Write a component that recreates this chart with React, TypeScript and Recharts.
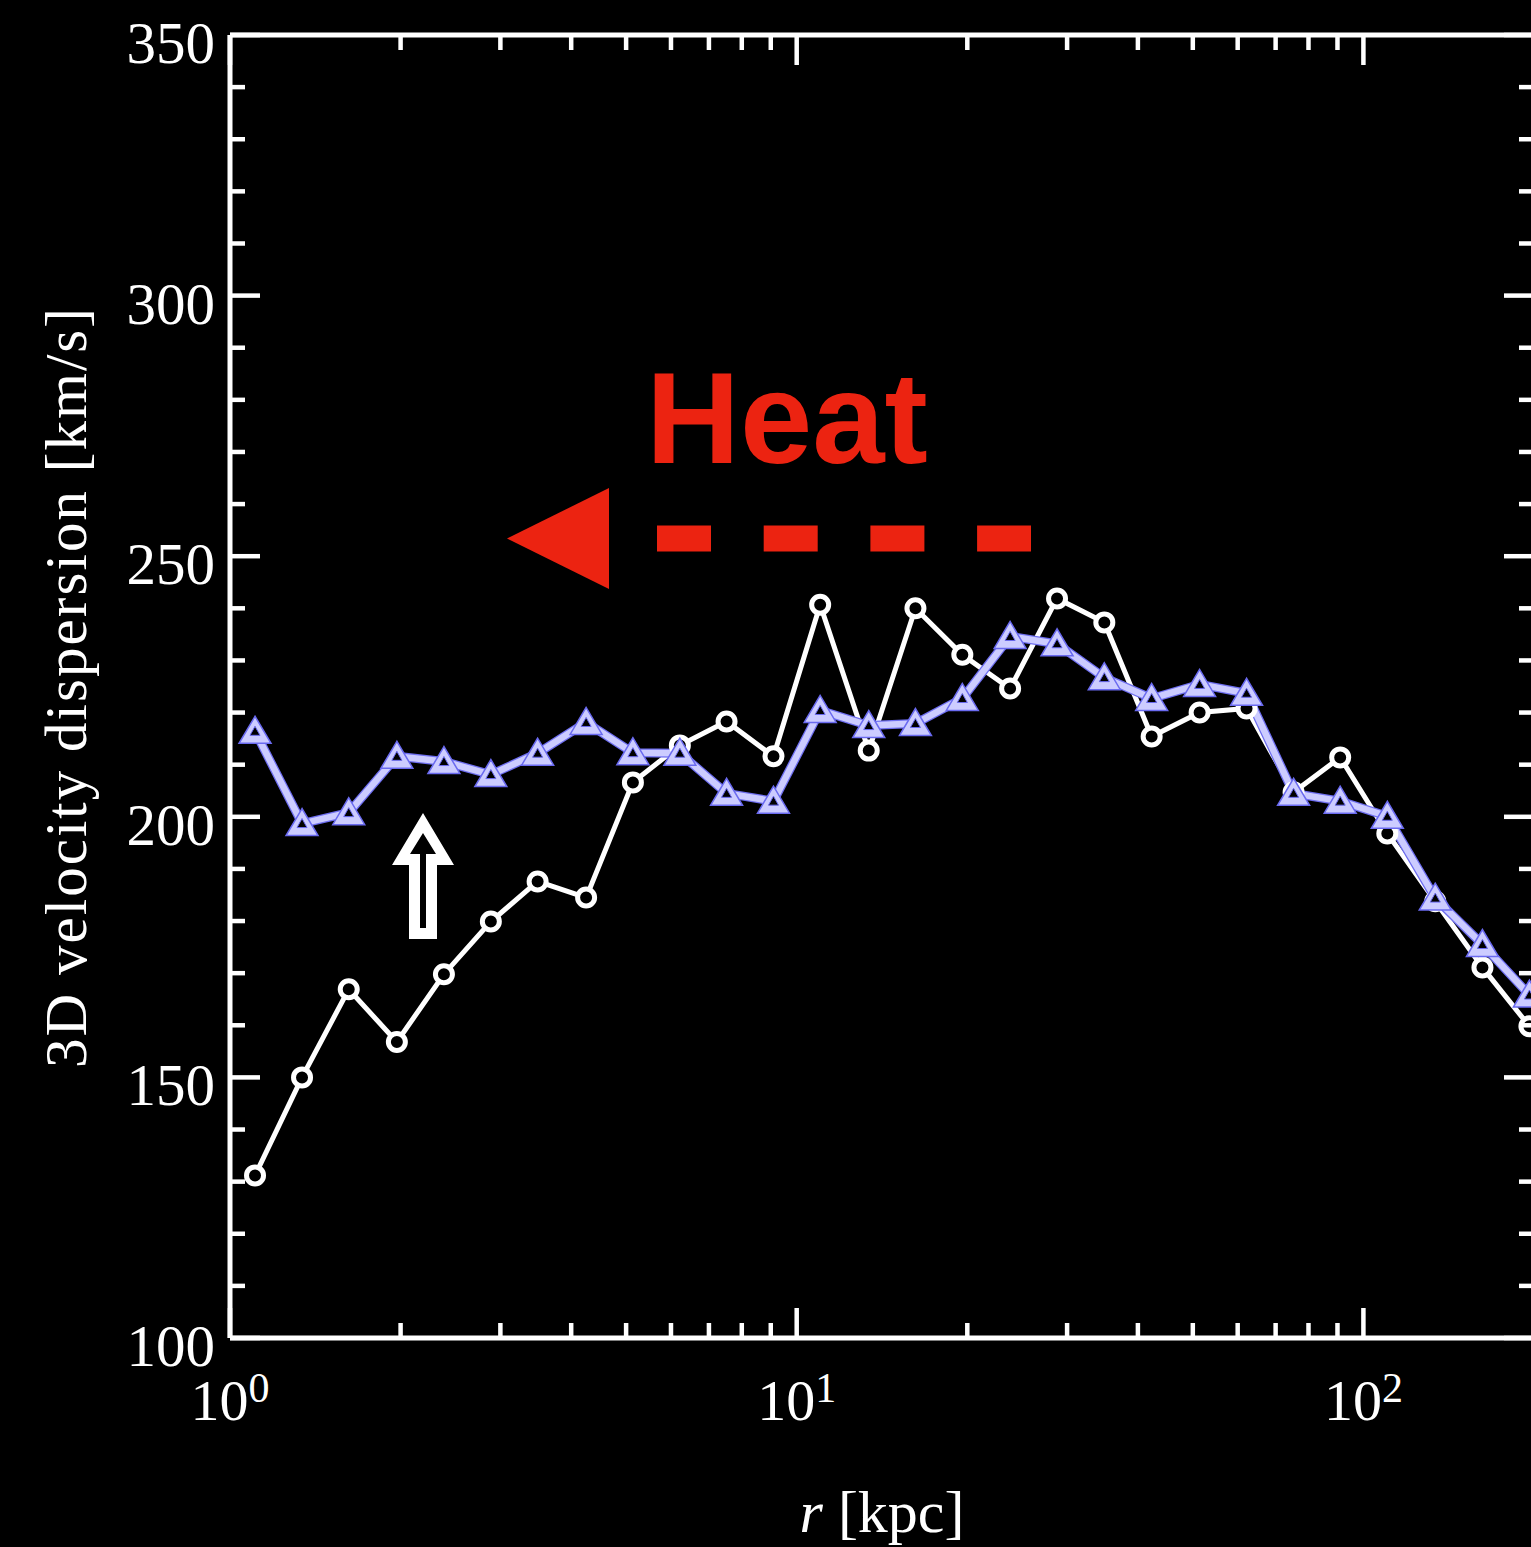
import { LineChart, Line, XAxis, YAxis } from 'recharts';

// radius [kpc], log-spaced bins
const radius = [1.107, 1.34, 1.62, 1.97, 2.385, 2.886, 3.49, 4.25, 5.14, 6.22, 7.52, 9.1, 11.0, 13.4, 16.2, 19.6, 23.8, 28.8, 34.9, 42.3, 51.4, 62.2, 75.3, 91.0, 110.2, 133.9, 162.2, 196.3];
// white circles
const sigmaCircle = [131.2, 150, 166.9, 156.8, 169.8, 179.9, 187.6, 184.5, 206.6, 213.7, 218.3, 211.6, 240.7, 212.7, 240, 231.1, 224.6, 241.9, 237.3, 215.4, 220, 220.8, 204.7, 211.4, 196.8, 183.8, 171.1, 159.8];
// lavender triangles
const sigmaTriangle = [216.4, 198.7, 200.8, 211.6, 210.6, 208.1, 212.2, 218.1, 212.3, 212.2, 204.5, 203, 220.4, 217.5, 217.9, 222.7, 234.6, 233.2, 226.7, 222.7, 225.4, 223.7, 204.5, 203, 200.1, 184.4, 175.5, 165.8];

const xTicks = [1, 2, 3, 4, 5, 6, 7, 8, 9, 10, 20, 30, 40, 50, 60, 70, 80, 90, 100, 200];
const xMajor = [1, 10, 100];
const xExponents = ['0', '1', '2'];
const yTicks = [100, 110, 120, 130, 140, 150, 160, 170, 180, 190, 200, 210, 220, 230, 240, 250, 260, 270, 280, 290, 300, 310, 320, 330, 340, 350];
const yMajor = [100, 150, 200, 250, 300, 350];

const data = radius.map((r, i) => ({ r, circle: sigmaCircle[i], tri: sigmaTriangle[i] }));

const SERIF = "'Liberation Serif', 'DejaVu Serif', serif";
const SANS = "'Liberation Sans', Arial, sans-serif";
const RED = '#ec2311';
const W = 1560;
const H = 1547;
const SPINE = { stroke: '#fff', strokeWidth: 5 };

const BottomTick = ({ x, y, payload }: any) => {
  const k = xMajor.indexOf(payload.value);
  const major = k >= 0;
  return (
    <g>
      <line x1={x} x2={x} y1={y} y2={y - (major ? 30 : 15)} stroke="#fff" strokeWidth={4.5} />
      {major && (
        <text x={x} y={y + 82} textAnchor="middle" fill="#fff" fontFamily={SERIF} fontSize={58}>
          10
          <tspan dy={-18} fontSize={42}>
            {xExponents[k]}
          </tspan>
        </text>
      )}
    </g>
  );
};

const TopTick = ({ x, y, payload }: any) => {
  const major = xMajor.includes(payload.value);
  return <line x1={x} x2={x} y1={y} y2={y + (major ? 30 : 15)} stroke="#fff" strokeWidth={4.5} />;
};

const LeftTick = ({ x, y, payload }: any) => {
  const major = yMajor.includes(payload.value);
  return (
    <g>
      <line x1={x} x2={x + (major ? 30 : 15)} y1={y} y2={y} stroke="#fff" strokeWidth={4.5} />
      {major && (
        <text x={x - 15} y={y + 28} textAnchor="end" fill="#fff" fontFamily={SERIF} fontSize={59}>
          {payload.value}
        </text>
      )}
    </g>
  );
};

const RightTick = ({ x, y, payload }: any) => {
  const major = yMajor.includes(payload.value);
  return <line x1={x} x2={x - (major ? 30 : 15)} y1={y} y2={y} stroke="#fff" strokeWidth={4.5} />;
};

const CircleDot = ({ cx, cy, index }: any) => (
  <circle key={`c${index}`} cx={cx} cy={cy} r={8.5} fill="#000" stroke="#fff" strokeWidth={5} />
);

const TriDot = ({ cx, cy, index }: any) => (
  <g key={`t${index}`}>
    <polygon
      points={`${cx},${cy - 15} ${cx - 16},${cy + 12} ${cx + 16},${cy + 12}`}
      fill="#ccccff"
      stroke="#6a6af0"
      strokeWidth={1.5}
    />
    <polygon
      points={`${cx},${cy - 5} ${cx - 5},${cy + 4} ${cx + 5},${cy + 4}`}
      fill="#000"
      stroke="#6a6af0"
      strokeWidth={1}
    />
  </g>
);

const Annotations = () => (
  <svg width={W} height={H} style={{ position: 'absolute', left: 0, top: 0, pointerEvents: 'none' }}>
    <text x={646} y={463} fill={RED} fontFamily={SANS} fontWeight="bold" fontSize={130}>
      Heat
    </text>
    <polygon points="507,538.5 609,488 609,589" fill={RED} />
    <line x1={657} x2={1031} y1={538.5} y2={538.5} stroke={RED} strokeWidth={26} strokeDasharray="54 52.7" />
    <polygon points="423,813 392,865 409,865 409,939 437,939 437,865 454,865" fill="#fff" />
    <polygon points="423,833 410,854 420,854 420,928 426,928 426,854 436,854" fill="#000" />
    <text
      x={0}
      y={0}
      transform="translate(86,688) rotate(-90)"
      textAnchor="middle"
      fill="#fff"
      fontFamily={SERIF}
      fontSize={59}
      textLength={760}
      lengthAdjust="spacing"
    >
      3D velocity dispersion [km/s]
    </text>
    <text x={882} y={1532} textAnchor="middle" fill="#fff" fontFamily={SERIF} fontSize={60}>
      <tspan fontStyle="italic">r</tspan> [kpc]
    </text>
  </svg>
);

export default function App() {
  return (
    <div style={{ width: 1531, height: H, overflow: 'hidden', background: '#000', position: 'relative' }}>
      <style>{`body{margin:0;background:#000;}`}</style>
      <LineChart width={W} height={H} data={data} margin={{ top: 0, right: 0, bottom: 0, left: 0 }}>
        <XAxis
          xAxisId="b"
          dataKey="r"
          type="number"
          scale="log"
          domain={[1, 200]}
          allowDataOverflow
          ticks={xTicks}
          interval={0}
          height={209}
          tickSize={0}
          tickMargin={0}
          tickLine={false}
          axisLine={SPINE}
          tick={BottomTick}
        />
        <XAxis
          xAxisId="t"
          orientation="top"
          dataKey="r"
          type="number"
          scale="log"
          domain={[1, 200]}
          allowDataOverflow
          ticks={xTicks}
          interval={0}
          height={35}
          tickSize={0}
          tickMargin={0}
          tickLine={false}
          axisLine={SPINE}
          tick={TopTick}
        />
        <YAxis
          yAxisId="l"
          type="number"
          domain={[100, 350]}
          allowDataOverflow
          ticks={yTicks}
          interval={0}
          width={230}
          tickSize={0}
          tickMargin={0}
          tickLine={false}
          axisLine={SPINE}
          tick={LeftTick}
        />
        <YAxis
          yAxisId="r"
          orientation="right"
          type="number"
          domain={[100, 350]}
          allowDataOverflow
          ticks={yTicks}
          interval={0}
          width={26}
          tickSize={0}
          tickMargin={0}
          tickLine={false}
          axisLine={SPINE}
          tick={RightTick}
        />
        <Line
          xAxisId="b"
          yAxisId="l"
          dataKey="circle"
          type="linear"
          stroke="#fff"
          strokeWidth={5}
          dot={CircleDot}
          activeDot={false}
          isAnimationActive={false}
        />
        <Line
          xAxisId="b"
          yAxisId="l"
          dataKey="tri"
          type="linear"
          stroke="#6e6ef0"
          strokeWidth={9}
          dot={false}
          activeDot={false}
          isAnimationActive={false}
        />
        <Line
          xAxisId="b"
          yAxisId="l"
          dataKey="tri"
          type="linear"
          stroke="#ccccff"
          strokeWidth={6.5}
          dot={TriDot}
          activeDot={false}
          isAnimationActive={false}
        />
      </LineChart>
      <Annotations />
    </div>
  );
}
